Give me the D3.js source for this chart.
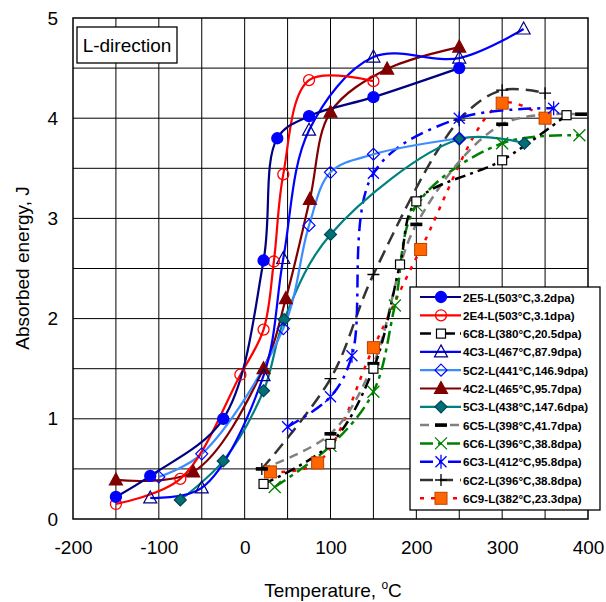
<!DOCTYPE html>
<html>
<head>
<meta charset="utf-8">
<script src="https://cdn.jsdelivr.net/npm/d3@7"></script>
<style>
  body { margin: 0; background: #fff; }
  text { font-family: Arial, "Liberation Sans", sans-serif; }
</style>
</head>
<body>
<script>
// ---- data ----
const xTicks = [-200, -100, 0, 100, 200, 300, 400];
const yTicks = [0, 1, 2, 3, 4, 5];

const names = [
  "2E5-L(503°C,3.2dpa)", "2E4-L(503°C,3.1dpa)", "6C8-L(380°C,20.5dpa)",
  "4C3-L(467°C,87.9dpa)", "5C2-L(441°C,146.9dpa)", "4C2-L(465°C,95.7dpa)",
  "5C3-L(438°C,147.6dpa)", "6C5-L(398°C,41.7dpa)", "6C6-L(396°C,38.8dpa)",
  "6C3-L(412°C,95.8dpa)", "6C2-L(396°C,38.8dpa)", "6C9-L(382°C,23.3dpa)"
];

const t2E5 = [-150, -110, -25, 22, 38, 75, 150, 250];
const e2E5 = [0.22, 0.43, 1.0, 2.58, 3.8, 4.02, 4.21, 4.5];
const t2E4 = [-150, -75, -5, 22, 34, 45, 75, 150];
const e2E4 = [0.15, 0.40, 1.44, 1.89, 2.57, 3.44, 4.38, 4.37];
const t6C8 = [22, 100, 150, 181, 200, 300, 375];
const e6C8 = [0.35, 0.75, 1.5, 2.54, 3.17, 3.58, 4.03];
const t4C3 = [-110, -50, 22, 45, 75, 150, 250, 325];
const e4C3 = [0.21, 0.31, 1.43, 2.6, 3.88, 4.61, 4.6, 4.89];
const t5C2 = [-100, -50, 45, 75, 100, 150, 250];
const e5C2 = [0.42, 0.65, 1.9, 2.93, 3.46, 3.64, 3.8];
const t4C2 = [-150, -60, 22, 48, 76, 100, 166, 250];
const e4C2 = [0.39, 0.47, 1.5, 2.2, 3.19, 4.06, 4.49, 4.71];
const t5C3 = [-75, -25, 22, 46, 100, 250, 326];
const e5C3 = [0.19, 0.58, 1.28, 1.99, 2.84, 3.79, 3.75];
const t6C5 = [20, 100, 150, 200, 300, 392];
const e6C5 = [0.5, 0.85, 1.55, 2.94, 3.94, 4.04];
const t6C6 = [35, 100, 150, 175, 200, 300, 390];
const e6C6 = [0.32, 0.73, 1.27, 2.13, 3.13, 3.75, 3.83];
const t6C3 = [50, 100, 125, 150, 250, 360];
const e6C3 = [0.92, 1.22, 1.63, 3.45, 4.0, 4.1];
const t6C2 = [20, 100, 150, 250, 300, 350];
const e6C2 = [0.5, 1.4, 2.44, 3.98, 4.28, 4.25];
const t6C9 = [30, 85, 150, 205, 300, 350];
const e6C9 = [0.47, 0.56, 1.71, 2.69, 4.15, 4.0];

// styles, same order as names
const styles = [
  { line: "#000080", w: 2.2, dash: null, mk: "circle", fill: "#0000ff", stroke: "#0000ff" },
  { line: "#ff0000", w: 2.2, dash: null, mk: "circle", fill: "none", stroke: "#ff0000" },
  { line: "#000000", w: 2.5, dash: "11,5,3,5", mk: "square", fill: "#fff", stroke: "#000" },
  { line: "#0000ff", w: 2.2, dash: null, mk: "triangle", fill: "none", stroke: "#000080" },
  { line: "#3c8cff", w: 2.2, dash: null, mk: "diamond", fill: "none", stroke: "#0000ff" },
  { line: "#800000", w: 2.2, dash: null, mk: "triangle", fill: "#800000", stroke: "#800000" },
  { line: "#008080", w: 2.2, dash: null, mk: "diamond", fill: "#007070", stroke: "#004060" },
  { line: "#808080", w: 2.5, dash: "9,6", mk: "bar", fill: "#000", stroke: "#000" },
  { line: "#008000", w: 2.5, dash: "13,5,4,5", mk: "x", fill: "none", stroke: "#008000" },
  { line: "#0000ff", w: 2.5, dash: "13,6,3,6", mk: "asterisk", fill: "none", stroke: "#0000ff" },
  { line: "#333333", w: 2.5, dash: "13,7", mk: "plus", fill: "none", stroke: "#000" },
  { line: "#ff0000", w: 2.5, dash: "4,7", mk: "bigsquare", fill: "#ff6600", stroke: "#c04000" }
];

const temps = [t2E5, t2E4, t6C8, t4C3, t5C2, t4C2, t5C3, t6C5, t6C6, t6C3, t6C2, t6C9];
const vals = [e2E5, e2E4, e6C8, e4C3, e5C2, e4C2, e5C3, e6C5, e6C6, e6C3, e6C2, e6C9];

const series = names.map((n, i) => ({
  name: n, style: styles[i],
  pts: temps[i].map((t, j) => ({ t: t, e: vals[i][j] }))
}));

// ---- layout ----
const width = 606, height = 602;
const pLeft = 73, pRight = 588, pTop = 18, pBottom = 519;

const x = d3.scaleLinear().domain([-200, 400]).range([pLeft, pRight]);
const y = d3.scaleLinear().domain([0, 5]).range([pBottom, pTop]);

const svg = d3.select("body").append("svg")
  .attr("width", width).attr("height", height);

// gridlines
svg.append("g").selectAll("line")
  .data(d3.range(-150, 400, 50))
  .enter().append("line")
  .attr("x1", d => x(d)).attr("x2", d => x(d))
  .attr("y1", pTop).attr("y2", pBottom)
  .attr("stroke", "#000").attr("stroke-width", 1);

svg.append("g").selectAll("line")
  .data(d3.range(0.5, 5, 0.5))
  .enter().append("line")
  .attr("x1", pLeft).attr("x2", pRight)
  .attr("y1", d => y(d)).attr("y2", d => y(d))
  .attr("stroke", "#000").attr("stroke-width", 1);

svg.append("rect")
  .attr("x", pLeft).attr("y", pTop)
  .attr("width", pRight - pLeft).attr("height", pBottom - pTop)
  .attr("fill", "none").attr("stroke", "#000").attr("stroke-width", 1.5);

// axes (labels only)
const xAxis = svg.append("g").attr("transform", `translate(0,${pBottom})`)
  .call(d3.axisBottom(x).tickValues(xTicks).tickFormat(d => String(d))
    .tickSize(0).tickPadding(22));
const yAxis = svg.append("g").attr("transform", `translate(${pLeft},0)`)
  .call(d3.axisLeft(y).tickValues(yTicks).tickFormat(d => String(d))
    .tickSize(0).tickPadding(15));
[xAxis, yAxis].forEach(a => {
  a.select(".domain").remove();
  a.selectAll("text").attr("font-size", 19).attr("fill", "#000")
    .attr("font-family", "Arial, 'Liberation Sans', sans-serif");
});

// axis titles
const xt = svg.append("text")
  .attr("x", 333).attr("y", 597)
  .attr("text-anchor", "middle").attr("font-size", 19);
xt.append("tspan").text("Temperature, ");
xt.append("tspan").attr("font-size", 12).attr("dy", -8).text("o");
xt.append("tspan").attr("dy", 8).text("C");

svg.append("text")
  .attr("transform", "translate(29,268) rotate(-90)")
  .attr("text-anchor", "middle").attr("font-size", 19)
  .text("Absorbed energy, J");

// L-direction box
svg.append("rect")
  .attr("x", 77).attr("y", 27).attr("width", 100).attr("height", 36)
  .attr("fill", "#fff").attr("stroke", "#000").attr("stroke-width", 1.3);
svg.append("text")
  .attr("x", 127).attr("y", 52).attr("text-anchor", "middle")
  .attr("font-size", 19).text("L-direction");

// markers
function drawMarker(g, s, cx, cy) {
  const k = s.mk;
  if (k === "circle") {
    g.append("circle").attr("cx", cx).attr("cy", cy).attr("r", 5.5)
      .attr("fill", s.fill).attr("stroke", s.stroke).attr("stroke-width", 1.3);
  } else if (k === "triangle") {
    g.append("path").attr("d", `M${cx},${cy - 7}L${cx + 6.5},${cy + 5}L${cx - 6.5},${cy + 5}Z`)
      .attr("fill", s.fill).attr("stroke", s.stroke).attr("stroke-width", 1.2);
  } else if (k === "diamond") {
    g.append("path").attr("d", `M${cx},${cy - 6}L${cx + 6},${cy}L${cx},${cy + 6}L${cx - 6},${cy}Z`)
      .attr("fill", s.fill).attr("stroke", s.stroke).attr("stroke-width", 1.2);
  } else if (k === "square") {
    g.append("rect").attr("x", cx - 4.5).attr("y", cy - 4.5).attr("width", 9).attr("height", 9)
      .attr("fill", s.fill).attr("stroke", s.stroke).attr("stroke-width", 1.2);
  } else if (k === "bigsquare") {
    g.append("rect").attr("x", cx - 6).attr("y", cy - 6).attr("width", 12).attr("height", 12)
      .attr("fill", s.fill).attr("stroke", s.stroke).attr("stroke-width", 1);
  } else if (k === "bar") {
    g.append("rect").attr("x", cx - 6).attr("y", cy - 1.8).attr("width", 12).attr("height", 3.6)
      .attr("fill", s.fill);
  } else if (k === "x") {
    g.append("path").attr("d", `M${cx - 6},${cy - 6}L${cx + 6},${cy + 6}M${cx + 6},${cy - 6}L${cx - 6},${cy + 6}`)
      .attr("stroke", s.stroke).attr("stroke-width", 1.3).attr("fill", "none");
  } else if (k === "asterisk") {
    g.append("path").attr("d", `M${cx - 5.5},${cy - 5.5}L${cx + 5.5},${cy + 5.5}M${cx + 5.5},${cy - 5.5}L${cx - 5.5},${cy + 5.5}M${cx},${cy - 7}L${cx},${cy + 7}`)
      .attr("stroke", s.stroke).attr("stroke-width", 1.3).attr("fill", "none");
  } else if (k === "plus") {
    g.append("path").attr("d", `M${cx - 6},${cy}L${cx + 6},${cy}M${cx},${cy - 6}L${cx},${cy + 6}`)
      .attr("stroke", s.stroke).attr("stroke-width", 1.3).attr("fill", "none");
  }
}

const line = d3.line()
  .x(d => x(d.t)).y(d => y(d.e))
  .curve(d3.curveCatmullRom.alpha(0.5));

// draw lines in reverse so the first series sit on top
const plot = svg.append("g");
series.slice().reverse().forEach(s => {
  plot.append("path").datum(s.pts)
    .attr("d", line)
    .attr("fill", "none")
    .attr("stroke", s.style.line)
    .attr("stroke-width", s.style.w)
    .attr("stroke-dasharray", s.style.dash);
});
series.slice().reverse().forEach(s => {
  const g = plot.append("g");
  s.pts.forEach(p => drawMarker(g, s.style, x(p.t), y(p.e)));
});

// legend
const lg = svg.append("g");
lg.append("rect")
  .attr("x", 410).attr("y", 287).attr("width", 190).attr("height", 223)
  .attr("fill", "#fff").attr("stroke", "#000").attr("stroke-width", 1.3);
series.forEach((s, i) => {
  const yy = 297 + i * 18.3;
  lg.append("line").attr("x1", 420).attr("x2", 461).attr("y1", yy).attr("y2", yy)
    .attr("stroke", s.style.line).attr("stroke-width", s.style.w)
    .attr("stroke-dasharray", s.style.dash);
  drawMarker(lg, s.style, 441, yy);
  lg.append("text").attr("x", 463).attr("y", yy + 4.5)
    .attr("font-size", 11.6).attr("font-weight", "bold").text(s.name);
});
</script>
</body>
</html>
